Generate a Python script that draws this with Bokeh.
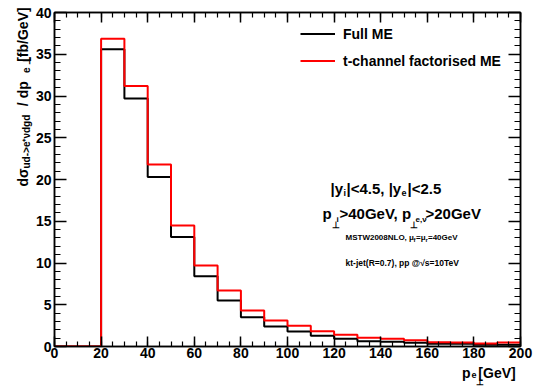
import math
from bokeh.plotting import figure
from bokeh.models import (LinearAxis, SingleIntervalTicker, Label, Legend,
                          LegendItem, CustomJSTickFormatter, Range1d)
from bokeh.embed import file_html
from bokeh.resources import INLINE

# ---------------- data ----------------
bin_edges = [0, 10, 20, 30, 40, 50, 60, 70, 80, 90, 100, 110, 120, 130, 140, 150,
             160, 170, 180, 190, 200]
full_me = [0, 0, 35.6, 29.7, 20.3, 13.1, 8.4, 5.5, 3.5, 2.4, 1.8, 1.28, 0.92, 0.64,
           0.56, 0.44, 0.32, 0.32, 0.2, 0.2]
t_channel_me = [0, 0, 36.85, 31.2, 21.8, 14.5, 9.7, 6.7, 4.3, 3.1, 2.48, 1.84, 1.4,
                1.04, 0.92, 0.76, 0.52, 0.48, 0.36, 0.48]
series_names = ["Full ME", "t-channel factorised ME"]

FONT = "Liberation Sans"
W, H = 535, 386
FL, FR, FT, FB = 54, 520, 12, 346   # frame box in page pixels
X0, X1, Y0, Y1 = 0, 200, 0, 40
NB = "\u00a0"

p = figure(width=W, height=H, output_backend="svg", toolbar_location=None,
           x_range=Range1d(X0, X1), y_range=Range1d(Y0, Y1),
           min_border_left=FL, min_border_right=W - FR, min_border_top=FT,
           min_border_bottom=H - FB, x_axis_location=None, y_axis_location=None)
p.grid.visible = False
p.outline_line_color = "black"
p.outline_line_width = 1.5
p.background_fill_color = "white"
p.border_fill_color = "white"

empty = CustomJSTickFormatter(code="return ''")

def style_axis(ax, major, minor, labels=True):
    ax.axis_line_color = "black"
    ax.axis_line_width = 1.5
    ax.major_tick_line_color = "black"
    ax.minor_tick_line_color = "black"
    ax.major_tick_line_width = 1.5
    ax.minor_tick_line_width = 1.2
    ax.major_tick_in = major
    ax.major_tick_out = 0
    ax.minor_tick_in = minor
    ax.minor_tick_out = 0
    if labels:
        ax.major_label_text_font = FONT
        ax.major_label_text_font_style = "bold"
        ax.major_label_text_font_size = "14px"
        ax.major_label_text_color = "black"
    else:
        ax.formatter = empty
        ax.major_label_text_font_size = "0px"
        ax.major_label_standoff = 0

xb = LinearAxis(ticker=SingleIntervalTicker(interval=20, num_minor_ticks=4))
style_axis(xb, 10, 5)
xb.major_label_standoff = 1
xt = LinearAxis(ticker=SingleIntervalTicker(interval=20, num_minor_ticks=4))
style_axis(xt, 10, 5, labels=False)
yl = LinearAxis(ticker=SingleIntervalTicker(interval=5, num_minor_ticks=5))
style_axis(yl, 12, 6)
yl.major_label_standoff = 3
yr = LinearAxis(ticker=SingleIntervalTicker(interval=5, num_minor_ticks=5))
style_axis(yr, 12, 6, labels=False)
p.add_layout(xb, "below")
p.add_layout(xt, "above")
p.add_layout(yl, "left")
p.add_layout(yr, "right")

# ---------------- histograms ----------------
r_black = p.step(x=bin_edges, y=full_me + [full_me[-1]], mode="after",
                 line_color="black", line_width=2)
r_red = p.step(x=bin_edges, y=t_channel_me + [t_channel_me[-1]], mode="after",
               line_color="#ff0000", line_width=2)

legend = Legend(items=[LegendItem(label=series_names[0], renderers=[r_black]),
                       LegendItem(label=series_names[1], renderers=[r_red])],
                location=(300 - FL, (FB - FT) - (25 - FT) - 44),
                glyph_width=35, glyph_height=17, label_height=17, spacing=10,
                label_standoff=8, padding=0, margin=0,
                border_line_color=None, background_fill_alpha=0,
                label_text_font=FONT, label_text_font_style="bold",
                label_text_font_size="14px", label_text_color="black")
p.add_layout(legend, "center")

# ---------------- texts inside the frame ----------------
def lab(text, X, Y, size):
    p.add_layout(Label(x=X - FL, y=FB - Y, x_units="screen", y_units="screen",
                       text=text, text_font=FONT, text_font_style="bold",
                       text_font_size=f"{size}px", text_color="black",
                       text_align="left", text_baseline="alphabetic"))

lab("|y", 330, 188, 15)
lab("i", 343, 192, 9)
lab("|<4.5, |y", 346, 188, 15)
lab("e", 401, 192, 9)
lab("|<2.5", 407, 188, 15)

lab("p", 322, 213, 15)
lab("⊥", 331, 224, 9)
lab("i", 336, 219, 8)
lab(">40GeV, p", 339, 213, 15)
lab("⊥", 409, 224, 9)
lab("e,ν", 415, 219, 8)
lab(">20GeV", 425, 213, 15)

lab("MSTW2008NLO, μ", 345, 237, 8)
lab("f", 413, 239, 6)
lab("=μ", 415.5, 237, 8)
lab("r", 425, 239, 6)
lab("=40GeV", 427.5, 237, 8)

lab("kt-jet(R=0.7), pp @√s=10TeV", 345, 262, 8.5)

# ---------------- axis titles: outside the frame, so held in side panels ----------------
def side(text, X, Y, size, angle, place):
    # page pixel -> data coordinates, so the text is placed through the plot's scales
    p.add_layout(Label(x=X0 + (X - FL) * (X1 - X0) / (FR - FL),
                       y=Y0 + (FB - Y) * (Y1 - Y0) / (FB - FT),
                       text=text, text_font=FONT, text_font_style="bold",
                       text_font_size=f"{size}px", text_color="black", angle=angle,
                       text_align="left", text_baseline="alphabetic"), place)

R = math.pi / 2
side("dσ" + NB * 16 + "/ dp" + NB * 5 + "[fb/GeV]", 22, 186, 14, R, "left")
side("ud->e⁺νdgd" + NB * 15 + "e" + NB + "⊥", 26, 168, 10, R, "left")
side("p" + NB * 2 + "[GeV]", 461.5, 372, 14, 0.0, "below")
side("e", 471, 374, 9, 0.0, "above")
side("⊥", 475, 381, 9, 0.0, "right")

open("out.html", "w").write(file_html(p, INLINE))
